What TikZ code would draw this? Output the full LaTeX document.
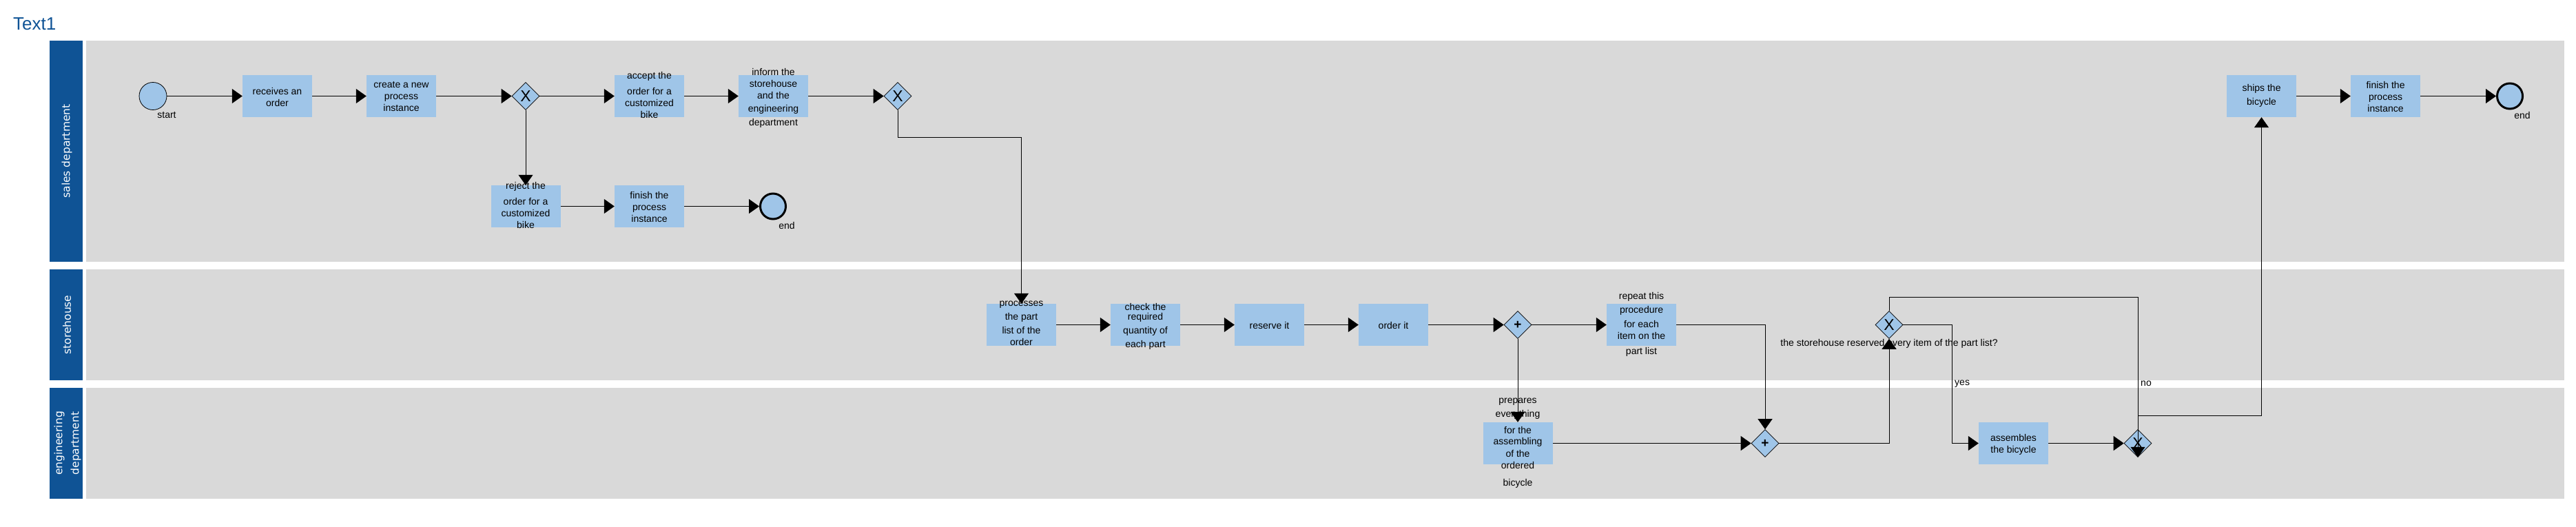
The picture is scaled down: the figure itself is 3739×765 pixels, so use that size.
\documentclass[tikz,border=0pt]{standalone}
\usepackage{fontspec}
\setmainfont{Liberation Sans}
\newfontfamily\lanefont{DejaVu Sans}
\usetikzlibrary{arrows.meta,shapes.geometric}
\definecolor{laneblue}{HTML}{0F5395}
\definecolor{lanegray}{HTML}{D9D9D9}
\definecolor{taskblue}{HTML}{9FC5E8}
\begin{document}
\begin{tikzpicture}[x=1pt,y=-1pt,
  task/.style={fill=taskblue, minimum width=101pt, minimum height=61pt, inner sep=0pt},
  tasktext/.style={font=\fontsize{14}{17}\selectfont, align=center, inner sep=0pt, text=black},
  plaintext/.style={font=\fontsize{14}{17}\selectfont, inner sep=0pt, text=black},
  gw/.style={diamond, aspect=1, draw=black, line width=0.6pt, fill=taskblue, minimum width=40pt, minimum height=40pt, inner sep=0pt},
  xgw/.style={gw, font=\fontsize{23}{23}\selectfont},
  pgw/.style={gw, font=\bfseries\fontsize{19}{19}\selectfont},
  startev/.style={circle, draw=black, line width=0.8pt, fill=taskblue, minimum size=40pt, inner sep=0pt},
  endev/.style={circle, draw=black, line width=3pt, fill=taskblue, minimum size=37pt, inner sep=0pt},
  flow/.style={draw=black, line width=1pt, -{Triangle[length=15pt,width=21pt]}},
  lanehead/.style={fill=laneblue},
  lanebody/.style={fill=lanegray},
  lanelabel/.style={text=white, font=\lanefont\fontsize{15.5}{24}\selectfont, rotate=90, align=center, inner sep=0pt}
]
\useasboundingbox (0,0) rectangle (3739,765);
% title
\node[anchor=base west, inner sep=0pt, text=laneblue, font=\fontsize{26}{26}\selectfont] (title) at (19,44) {Text1};
% lanes
\fill[lanehead] (72,59) rectangle (120,380);
\fill[lanebody] (125,59) rectangle (3722,380);
\fill[lanehead] (72,391) rectangle (120,552);
\fill[lanebody] (125,391) rectangle (3722,552);
\fill[lanehead] (72,563) rectangle (120,724);
\fill[lanebody] (125,563) rectangle (3722,724);
\node[lanelabel] (lsales) at (97,219.5) {sales department};
\node[lanelabel] (lstore) at (97,471.5) {storehouse};
\node[lanelabel] (leng) at (98,643.5) {engineering\\department};

% sales lane
\node[startev] (start) at (222,139.5) {};
\node[plaintext] (startlbl) at (242,167) {start};
\node[task] (receives) at (402.5,139.5) {};
\node[tasktext] (treceives) at (402.5,140.5) {receives an\\order};
\node[task] (create) at (582.5,139.5) {};
\node[tasktext] (tcreate) at (582.5,140) {create a new\\process\\instance};
\node[xgw] (X1) at (763,139.5) {X};
\node[task] (accept) at (942.5,139.5) {};
\node[tasktext] (taccept) at (942.5,137.5) {accept the\\[6pt]order for a\\customized\\bike};
\node[task] (inform) at (1122.5,139.5) {};
\node[tasktext] (tinform) at (1122.5,142.5) {inform the\\storehouse\\and the\\[2pt]engineering\\[3pt]department};
\node[xgw] (X2) at (1303,139.5) {X};
\node[task] (reject) at (763,299.5) {};
\node[tasktext] (treject) at (763,297.5) {reject the\\[6pt]order for a\\customized\\bike};
\node[task] (finish1) at (942.5,299.5) {};
\node[tasktext] (tfinish1) at (942.5,300) {finish the\\process\\instance};
\node[endev] (end1) at (1122,299.5) {};
\node[plaintext] (end1lbl) at (1142,327) {end};
\node[task] (ships) at (3282.5,139.5) {};
\node[tasktext] (tships) at (3282.5,139) {ships the\\[3pt]bicycle};
\node[task] (finish2) at (3462.5,139.5) {};
\node[tasktext] (tfinish2) at (3462.5,140) {finish the\\process\\instance};
\node[endev] (end2) at (3643,139.5) {};
\node[plaintext] (end2lbl) at (3661,167) {end};

% storehouse lane
\node[task] (processes) at (1482.5,471.5) {};
\node[tasktext] (tprocesses) at (1482.5,469.5) {processes\\[3pt]the part\\[3pt]list of the\\order};
\node[task] (check) at (1662.5,471.5) {};
\node[tasktext] (tcheck) at (1662.5,474) {check the\\[-3pt]required\\[3pt]quantity of\\[3pt]each part};
\node[task] (reserve) at (1842.5,471.5) {};
\node[tasktext] (treserve) at (1842.5,472) {reserve it};
\node[task] (order) at (2022.5,471.5) {};
\node[tasktext] (torder) at (2022.5,472) {order it};
\node[pgw] (P1) at (2203,471.5) {+};
\node[task] (repeat) at (2382.5,471.5) {};
\node[tasktext] (trepeat) at (2382.5,471) {repeat this\\[3pt]procedure\\[4pt]for each\\item on the\\[5pt]part list};
\node[xgw] (X3) at (2742,471.5) {X};
\node[plaintext] (qlbl) at (2742,499) {the storehouse reserved every item of the part list?};

% engineering lane
\node[task] (prepares) at (2203,643.5) {};
\node[tasktext] (tprepares) at (2203,643) {prepares\\[3pt]everything\\[7pt]for the\\[-1pt]assembling\\[1pt]of the\\ordered\\[8pt]bicycle};
\node[pgw] (P2) at (2562,643.5) {+};
\node[task] (assembles) at (2922.5,643.5) {};
\node[tasktext] (tassembles) at (2922.5,645) {assembles\\the bicycle};
\node[xgw] (X4) at (3103,643.5) {X};

% edge labels
\node[plaintext, anchor=west] (yeslbl) at (2837,557) {yes};
\node[plaintext, anchor=west] (nolbl) at (3107,557) {no};

% connectors
\draw[flow] (start) -- (receives);
\draw[flow] (receives) -- (create);
\draw[flow] (create) -- (X1);
\draw[flow] (X1) -- (accept);
\draw[flow] (accept) -- (inform);
\draw[flow] (inform) -- (X2);
\draw[flow] (X1.south) -- (reject.north);
\draw[flow] (reject) -- (finish1);
\draw[flow] (finish1) -- (end1);
\draw[flow] (X2.south) -- ++(0,40) -| (processes.north);
\draw[flow] (processes) -- (check);
\draw[flow] (check) -- (reserve);
\draw[flow] (reserve) -- (order);
\draw[flow] (order) -- (P1);
\draw[flow] (P1) -- (repeat);
\draw[flow] (P1.south) -- (prepares.north);
\draw[flow] (repeat.east) -| (P2.north);
\draw[flow] (prepares) -- (P2);
\draw[flow] (P2.east) -| (X3.south);
\draw[flow] (X3.east) -- ++(71,0) |- (assembles.west);
\draw[flow] (X3.north) -- ++(0,-20) -| (X4.south);
\draw[flow] (assembles) -- (X4);
\draw[flow] (X4.north) -- ++(0,-20) -| (ships.south);
\draw[flow] (ships) -- (finish2);
\draw[flow] (finish2) -- (end2);
\end{tikzpicture}
\end{document}
